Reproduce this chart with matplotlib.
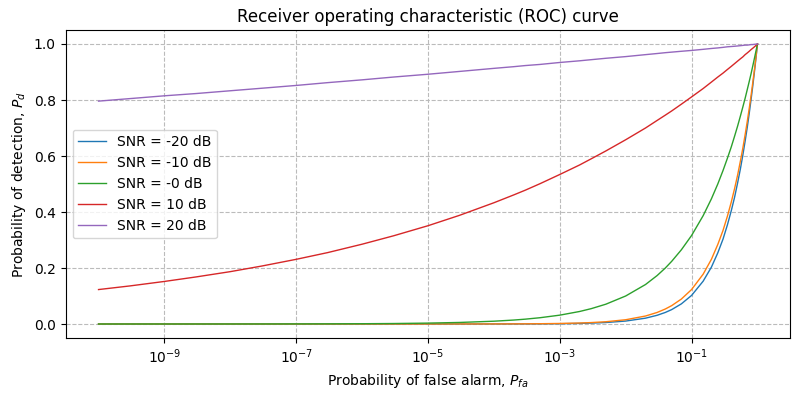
import matplotlib
matplotlib.use("Agg")
import matplotlib.pyplot as plt

# false alarm probabilities (sample points read along the x axis)
pfa = [1e-10, 3e-10, 1e-9, 3e-9, 1e-8, 3e-8, 1e-7, 3e-7, 1e-6, 3e-6,
       1e-5, 3e-5, 1e-4, 2e-4, 3e-4, 5e-4, 1e-3, 2e-3, 3e-3, 5e-3,
       0.01, 0.02, 0.03, 0.04, 0.05, 0.07, 0.1, 0.15, 0.2, 0.25, 0.3,
       0.35, 0.4, 0.45, 0.5, 0.55, 0.6, 0.65, 0.7, 0.75, 0.8, 0.85,
       0.9, 0.95, 1.0]

labels = ["SNR = -20 dB", "SNR = -10 dB", "SNR = -0 dB", "SNR = 10 dB", "SNR = 20 dB"]

# detection probabilities
pd_m20 = [1.3e-10, 3.7e-10, 1.2e-9, 3.6e-9, 1.2e-8, 3.6e-8, 1.2e-7, 3.5e-7, 1.1e-6, 3.4e-6,
          1.1e-5, 3.3e-5, 1.1e-4, 2.2e-4, 3.3e-4, 5.4e-4, 0.00107, 0.00213, 0.00318, 0.00527,
          0.0105, 0.0208, 0.0311, 0.0413, 0.0515, 0.0719, 0.102, 0.153, 0.203, 0.254, 0.303,
          0.354, 0.404, 0.453, 0.504, 0.553, 0.603, 0.653, 0.702, 0.752, 0.802, 0.851,
          0.901, 0.950, 1.0]
pd_m10 = [8.1e-10, 2.2e-9, 6.6e-9, 1.8e-8, 5.3e-8, 1.4e-7, 4.3e-7, 1.2e-6, 3.5e-6, 9.5e-6,
          2.8e-5, 7.7e-5, 2.3e-4, 4.3e-4, 6.3e-4, 0.0010, 0.0019, 0.00352, 0.0051, 0.00809,
          0.0152, 0.0285, 0.0412, 0.0536, 0.0657, 0.0891, 0.123, 0.178, 0.231, 0.284, 0.334,
          0.385, 0.435, 0.484, 0.532, 0.581, 0.628, 0.676, 0.723, 0.770, 0.816, 0.863,
          0.908, 0.954, 1.0]
pd_0 = [1e-5, 1.7e-5, 3.2e-5, 5.5e-5, 1e-4, 1.7e-4, 3.2e-4, 5.5e-4, 0.001, 0.0017,
        0.0032, 0.0055, 0.01, 0.0141, 0.0173, 0.0224, 0.0316, 0.0447, 0.0548, 0.0707,
        0.1, 0.141, 0.173, 0.200, 0.224, 0.265, 0.316, 0.387, 0.447, 0.500, 0.548,
        0.592, 0.632, 0.671, 0.707, 0.742, 0.775, 0.806, 0.837, 0.866, 0.894, 0.922,
        0.949, 0.975, 1.0]
pd_10 = [0.123, 0.136, 0.152, 0.168, 0.187, 0.207, 0.231, 0.255, 0.285, 0.315,
         0.351, 0.388, 0.433, 0.461, 0.478, 0.501, 0.534, 0.568, 0.590, 0.618,
         0.658, 0.700, 0.727, 0.746, 0.761, 0.785, 0.811, 0.841, 0.864, 0.882, 0.896,
         0.909, 0.920, 0.930, 0.939, 0.947, 0.954, 0.962, 0.968, 0.974, 0.980, 0.985,
         0.990, 0.995, 1.0]
pd_20 = [0.796, 0.805, 0.815, 0.823, 0.833, 0.842, 0.852, 0.862, 0.872, 0.882,
         0.892, 0.902, 0.913, 0.919, 0.923, 0.927, 0.934, 0.940, 0.944, 0.949,
         0.955, 0.962, 0.966, 0.969, 0.971, 0.974, 0.977, 0.981, 0.984, 0.986, 0.988,
         0.990, 0.991, 0.992, 0.993, 0.994, 0.995, 0.996, 0.996, 0.997, 0.998, 0.998,
         0.999, 0.9995, 1.0]

curves = [pd_m20, pd_m10, pd_0, pd_10, pd_20]

fig, ax = plt.subplots(figsize=(8, 4), dpi=100)
fig.subplots_adjust(left=0.082, right=0.988, top=0.925, bottom=0.155)
for pd_vals, lab in zip(curves, labels):
    ax.plot(pfa, pd_vals, lw=1, label=lab)

ax.set_xscale("log")
ax.set_title("Receiver operating characteristic (ROC) curve")
ax.set_xlabel("Probability of false alarm, $P_{fa}$")
ax.set_ylabel("Probability of detection, $P_d$")
ax.grid(True, ls="--", color="#bbbbbb")
ax.legend(loc="center left")

plt.savefig("out.png")
